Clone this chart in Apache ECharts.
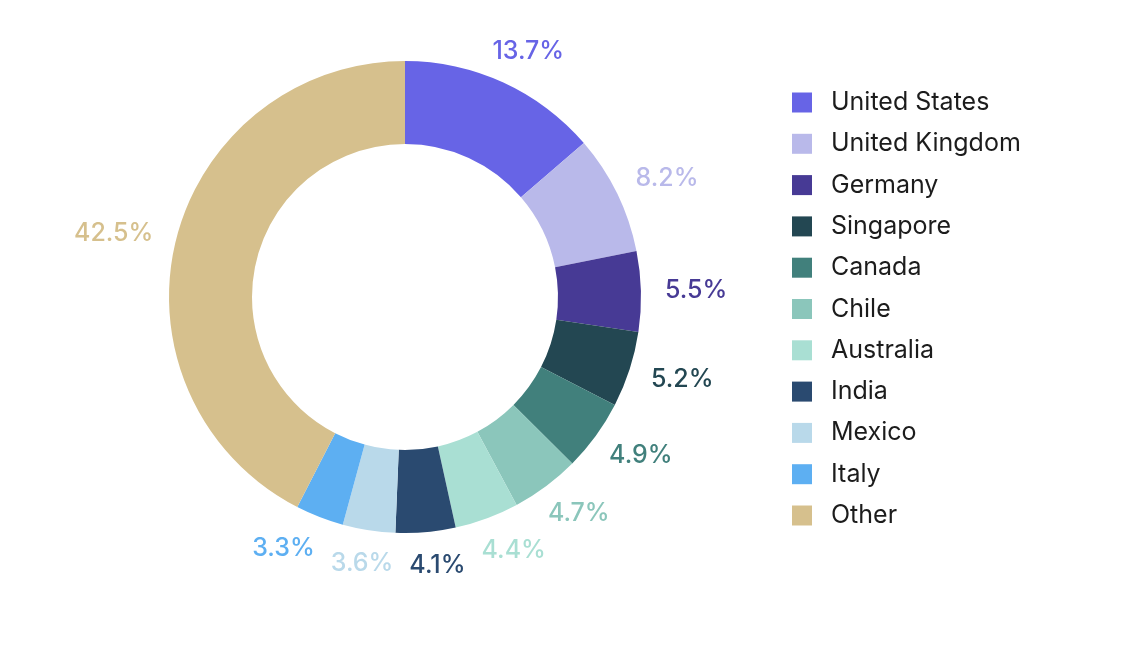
<!DOCTYPE html>
<html>
<head>
<meta charset="utf-8">
<script src="https://cdn.jsdelivr.net/npm/echarts@6/dist/echarts.min.js"></script>
<style>
  html, body { margin: 0; padding: 0; background: #fff; }
  #chart { width: 1142px; height: 654px; }
</style>
</head>
<body>
<div id="chart"></div>
<script>
// 国家占比数据
var categories = ['United States', 'United Kingdom', 'Germany', 'Singapore', 'Canada', 'Chile', 'Australia', 'India', 'Mexico', 'Italy', 'Other']
var shares = [13.7, 8.2, 5.5, 5.2, 4.9, 4.7, 4.4, 4.1, 3.6, 3.3, 42.5]
var colors = ['#6764e6', '#b9b9ea', '#473a95', '#234752', '#41807c', '#8bc6bb', '#a9dfd3', '#2a4a70', '#b9d9ea', '#5daff2', '#d6c08d']

var cx = 405
var cy = 297
var rIn = 153
var rOut = 236
var labelR = 260
var labelH = 20
var labelFont = '500 25px Inter'

var total = shares.reduce(function (a, b) { return a + b }, 0)
var cum = []
shares.reduce(function (acc, v, i) { cum[i] = acc; return acc + v }, 0)

// 预先计算标签位置：沿扇区中线外推，再横向错开底部重叠的标签
function calcLabelPos () {
  var ctx = document.createElement('canvas').getContext('2d')
  ctx.font = labelFont
  var pos = shares.map(function (v, i) {
    var mid = (cum[i] + v / 2) / total * 2 * Math.PI
    var ux = Math.sin(mid)
    var uy = -Math.cos(mid)
    var w = ctx.measureText(v + '%').width
    return { x: cx + ux * labelR + ux * w / 2, y: cy + uy * labelR + uy * labelH / 2, w: w, uy: uy }
  })
  for (var k = 0; k < 50; k++) {
    for (var a = 0; a < pos.length; a++) {
      for (var b = a + 1; b < pos.length; b++) {
        var p = pos[a]
        var q = pos[b]
        if (Math.abs(p.uy) < 0.8 || Math.abs(q.uy) < 0.8) continue
        if (Math.abs(p.y - q.y) > labelH) continue
        var need = (p.w + q.w) / 2 + 16 - Math.abs(p.x - q.x)
        if (need > 0) {
          var s = p.x < q.x ? -1 : 1
          p.x += s * need / 2
          q.x -= s * need / 2
        }
      }
    }
  }
  return pos
}
var labelPos = calcLabelPos()

var chartDom = echarts.init(document.getElementById('chart'))
var option = {
  animation: false,
  color: colors,
  legend: {
    orient: 'vertical',
    left: 792,
    top: 90,
    padding: 0,
    icon: 'rect',
    itemWidth: 20,
    itemHeight: 20,
    itemGap: 16.3,
    selectedMode: false,
    textStyle: {
      fontFamily: 'Inter',
      fontSize: 25,
      lineHeight: 24,
      color: '#1c1c1c',
      padding: [0, 0, 0, 14]
    },
    data: categories
  },
  series: [{
    type: 'pie',
    center: [cx, cy],
    radius: [rIn, rOut],
    startAngle: 90,
    clockwise: true,
    avoidLabelOverlap: false,
    emphasis: { disabled: true },
    itemStyle: { borderWidth: 0 },
    label: {
      show: true,
      position: 'outside',
      formatter: '{c}%',
      fontFamily: 'Inter',
      fontSize: 25,
      lineHeight: labelH,
      fontWeight: 500
    },
    labelLine: { show: false },
    labelLayout: function (p) {
      var lp = labelPos[p.dataIndex]
      return { x: lp.x, y: lp.y, align: 'center', verticalAlign: 'middle' }
    },
    data: categories.map(function (name, i) {
      return { name: name, value: shares[i], label: { color: colors[i] } }
    })
  }]
}
chartDom.setOption(option)
</script>
</body>
</html>
